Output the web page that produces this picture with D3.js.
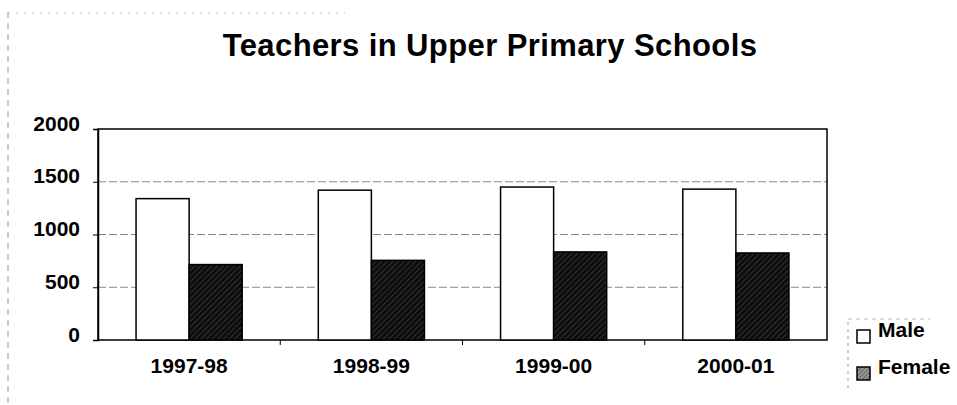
<!DOCTYPE html>
<html><head><meta charset="utf-8">
<script src="https://cdn.jsdelivr.net/npm/d3@7"></script>
<style>html,body{margin:0;padding:0;background:#fff;}svg{display:block;}</style>
</head><body>
<svg id="c" width="957" height="405"></svg>
<script>
const categories = ["1997-98", "1998-99", "1999-00", "2000-01"];
const seriesNames = ["Male", "Female"];
const male = [1340, 1420, 1450, 1430];
const female = [715, 755, 835, 825];
const yTicks = [0, 500, 1000, 1500, 2000];
const title = "Teachers in Upper Primary Schools";

const svg = d3.select("#c");
const m = {l: 98, r: 827, t: 129, b: 340};
const font = "'Liberation Sans', Arial, sans-serif";

const defs = svg.append("defs");
const pat = defs.append("pattern").attr("id", "hatch").attr("patternUnits", "userSpaceOnUse")
  .attr("width", 4).attr("height", 4).attr("patternTransform", "rotate(45)");
pat.append("rect").attr("width", 4).attr("height", 4).attr("fill", "#0d0d0d");
pat.append("line").attr("x1", 0).attr("y1", 0).attr("x2", 0).attr("y2", 4).attr("stroke", "#555").attr("stroke-width", 1);
const pat2 = defs.append("pattern").attr("id", "hatchL").attr("patternUnits", "userSpaceOnUse")
  .attr("width", 3).attr("height", 3).attr("patternTransform", "rotate(45)");
pat2.append("rect").attr("width", 3).attr("height", 3).attr("fill", "#999");
pat2.append("line").attr("x1", 0).attr("y1", 0).attr("x2", 0).attr("y2", 3).attr("stroke", "#222").attr("stroke-width", 1);

// faint outer frame (scan artefact)
svg.append("line").attr("x1", 8).attr("x2", 8).attr("y1", 12).attr("y2", 405)
  .attr("stroke", "#999").attr("stroke-width", 1).attr("stroke-dasharray", "6,5");
svg.append("line").attr("x1", 8).attr("x2", 345).attr("y1", 13).attr("y2", 13)
  .attr("stroke", "#bbb").attr("stroke-width", 1).attr("stroke-dasharray", "2,6");

const x = d3.scaleBand().domain(categories).range([m.l, m.r]).padding(0);
const xi = d3.scaleBand().domain(seriesNames).range([0, x.bandwidth()]).paddingInner(0).paddingOuter(0.717);
const y = d3.scaleLinear().domain([0, 2000]).range([m.b, m.t]);

svg.append("text").attr("x", 490).attr("y", 56).attr("text-anchor", "middle")
  .attr("font-family", font).attr("font-weight", "bold").attr("font-size", 31)
  .attr("letter-spacing", "0.4px").attr("fill", "#000").text(title);

// gridlines
svg.append("g").selectAll("line").data(yTicks.filter(d => d > 0 && d < 2000)).join("line")
  .attr("x1", m.l).attr("x2", m.r).attr("y1", d => y(d)).attr("y2", d => y(d))
  .attr("stroke", "#888").attr("stroke-width", 1).attr("stroke-dasharray", "8,3");

// plot frame
svg.append("rect").attr("x", m.l).attr("y", m.t).attr("width", m.r - m.l).attr("height", m.b - m.t)
  .attr("fill", "none").attr("stroke", "#000").attr("stroke-width", 1.5);

// bars
const data = categories.map((c, i) => ({c, vals: [{s: "Male", v: male[i]}, {s: "Female", v: female[i]}]}));
const g = svg.append("g").selectAll("g").data(data).join("g").attr("transform", d => `translate(${x(d.c)},0)`);
g.selectAll("rect").data(d => d.vals).join("rect")
  .attr("x", d => xi(d.s)).attr("width", xi.bandwidth())
  .attr("y", d => y(d.v)).attr("height", d => y(0) - y(d.v))
  .attr("fill", d => d.s === "Male" ? "#fff" : "url(#hatch)")
  .attr("stroke", "#000").attr("stroke-width", 1.5);

// y axis
const ya = svg.append("g").attr("transform", `translate(${m.l},0)`)
  .call(d3.axisLeft(y).tickValues(yTicks).tickFormat(d3.format("d")).tickSize(5).tickPadding(13));
ya.select(".domain").attr("stroke", "#000").attr("stroke-width", 1.5);
ya.selectAll("line").attr("stroke", "#000");
ya.selectAll("text").attr("font-family", font).attr("font-weight", "bold").attr("font-size", 21).attr("fill", "#000")
  .attr("dy", "0.05em");

// x axis
const xa = svg.append("g").attr("transform", `translate(0,${m.b})`)
  .call(d3.axisBottom(x).tickSize(0).tickPadding(18));
xa.select(".domain").remove();
xa.selectAll("text").attr("font-family", font).attr("font-weight", "bold").attr("font-size", 21).attr("fill", "#000");
svg.append("g").selectAll("line").data(categories.slice(1)).join("line")
  .attr("x1", d => x(d)).attr("x2", d => x(d)).attr("y1", m.b).attr("y2", m.b + 5)
  .attr("stroke", "#000").attr("stroke-width", 1);

// legend
svg.append("line").attr("x1", 848).attr("x2", 848).attr("y1", 322).attr("y2", 392)
  .attr("stroke", "#999").attr("stroke-dasharray", "3,4");
svg.append("line").attr("x1", 848).attr("x2", 930).attr("y1", 319).attr("y2", 319)
  .attr("stroke", "#bbb").attr("stroke-dasharray", "4,4");
const leg = svg.append("g").selectAll("g").data(seriesNames).join("g")
  .attr("transform", (d, i) => `translate(857,${330 + i * 37})`);
leg.append("rect").attr("width", 13).attr("height", 13)
  .attr("fill", d => d === "Male" ? "#fff" : "url(#hatchL)").attr("stroke", "#000").attr("stroke-width", 1.5);
leg.append("text").attr("x", 21).attr("y", 7).attr("font-family", font).attr("font-weight", "bold")
  .attr("font-size", 21).attr("fill", "#000").text(d => d);
</script>
</body></html>
